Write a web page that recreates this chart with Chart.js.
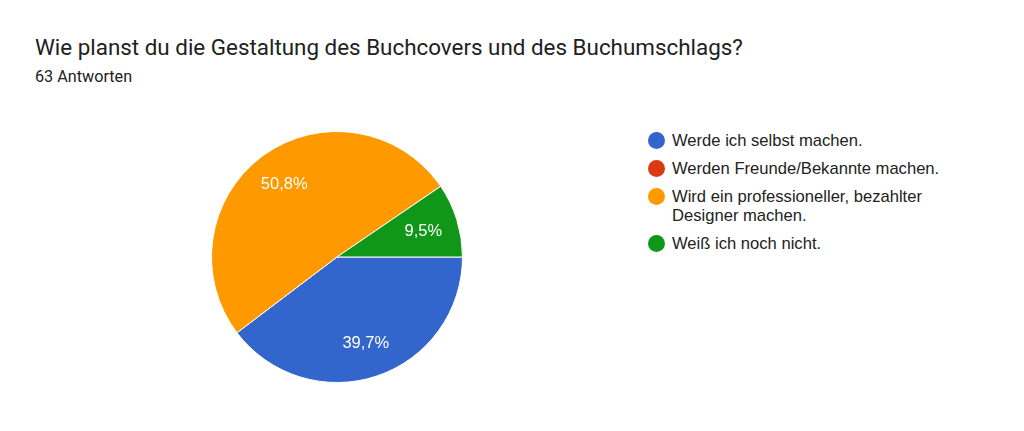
<!DOCTYPE html>
<html>
<head>
<meta charset="utf-8">
<script src="https://cdn.jsdelivr.net/npm/chart.js@4"></script>
<style>
  html, body { margin: 0; padding: 0; background: #fff; }
  #page { position: relative; width: 1024px; height: 431px; overflow: hidden; }
  #title { position: absolute; left: 35px; top: 34px; font: 22.4px Roboto, sans-serif; color: #212121; white-space: nowrap; }
  #subtitle { position: absolute; left: 35px; top: 67px; font: 16.2px Roboto, sans-serif; color: #212121; white-space: nowrap; }
  #pieBox { position: absolute; left: 211px; top: 131px; width: 252px; height: 252px; }
  #legend { position: absolute; left: 648px; top: 131px; width: 300px; font: 16.6px "Liberation Sans", Arial, sans-serif; color: #222; }
  .item { display: flex; align-items: flex-start; margin-bottom: 9px; line-height: 19px; }
  .dot { width: 17px; height: 17px; border-radius: 50%; margin: 1px 7px 0 0; flex: none; }
  .txt { width: 272px; }
</style>
</head>
<body>
<div id="page">
  <div id="title">Wie planst du die Gestaltung des Buchcovers und des Buchumschlags?</div>
  <div id="subtitle">63 Antworten</div>
  <div id="pieBox"><canvas id="pie"></canvas></div>
  <div id="legend"></div>
</div>
<script>
const categories = [
  'Werde ich selbst machen.',
  'Werden Freunde/Bekannte machen.',
  'Wird ein professioneller, bezahlter Designer machen.',
  'Weiß ich noch nicht.'
];
const answers = [25, 0, 32, 6];
const colors = ['#3366cc', '#dc3912', '#ff9900', '#109618'];

// legend as plain html, google forms style
const legend = document.getElementById('legend');
categories.forEach((name, i) => {
  const row = document.createElement('div');
  row.className = 'item';
  row.innerHTML = `<span class="dot" style="background:${colors[i]}"></span><span class="txt">${name}</span>`;
  legend.appendChild(row);
});

const percentLabels = {
  id: 'percentLabels',
  afterDatasetsDraw(chart) {
    const ctx = chart.ctx;
    const meta = chart.getDatasetMeta(0);
    const data = chart.data.datasets[0].data;
    const total = data.reduce((a, b) => a + b, 0);
    ctx.save();
    ctx.fillStyle = '#fff';
    ctx.font = '16.5px "Liberation Sans", Arial, sans-serif';
    ctx.textAlign = 'center';
    ctx.textBaseline = 'middle';
    meta.data.forEach((arc, i) => {
      if (!data[i]) return;
      const p = arc.getProps(['x', 'y', 'startAngle', 'endAngle', 'outerRadius'], true);
      const mid = (p.startAngle + p.endAngle) / 2;
      const r = p.outerRadius * 0.72;
      const text = (data[i] / total * 100).toFixed(1).replace('.', ',') + '%';
      ctx.fillText(text, p.x + Math.cos(mid) * r, p.y + Math.sin(mid) * r + 1);
    });
    ctx.restore();
  }
};

new Chart(document.getElementById('pie'), {
  type: 'pie',
  data: {
    labels: categories,
    datasets: [{
      data: answers,
      backgroundColor: colors,
      borderColor: '#fff',
      borderWidth: 1
    }]
  },
  options: {
    responsive: true,
    maintainAspectRatio: false,
    animation: false,
    rotation: 90,
    layout: { padding: 0 },
    plugins: {
      legend: { display: false },
      tooltip: { enabled: false }
    }
  },
  plugins: [percentLabels]
});
</script>
</body>
</html>
